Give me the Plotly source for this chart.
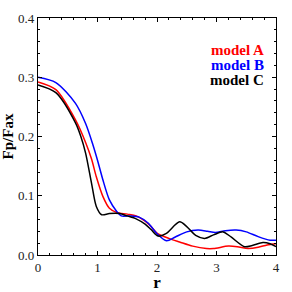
import plotly.graph_objects as go

r_a = [0, 0.3, 0.63, 0.8, 0.9, 0.98, 1.09, 1.2, 1.32, 1.5, 1.65, 1.8, 1.9, 2.0, 2.2, 2.38, 2.6, 2.83, 2.95, 3.2, 3.35, 3.53, 3.7, 3.85, 4.0]
f_a = [0.292, 0.279, 0.228, 0.190, 0.162, 0.132, 0.099, 0.079, 0.072, 0.069, 0.066, 0.057, 0.048, 0.037, 0.028, 0.022, 0.015, 0.011, 0.011, 0.015, 0.014, 0.011, 0.013, 0.017, 0.019]

r_b = [0, 0.3, 0.63, 0.8, 0.92, 1.0, 1.09, 1.2, 1.32, 1.40, 1.55, 1.7, 1.85, 2.0, 2.16, 2.3, 2.5, 2.69, 2.85, 2.98, 3.15, 3.33, 3.5, 3.7, 3.9, 4.0]
f_b = [0.300, 0.291, 0.256, 0.222, 0.187, 0.160, 0.127, 0.093, 0.074, 0.066, 0.066, 0.064, 0.054, 0.036, 0.024, 0.030, 0.039, 0.042, 0.040, 0.038, 0.041, 0.042, 0.039, 0.031, 0.025, 0.025]

r_c = [0, 0.3, 0.63, 0.72, 0.8, 0.9, 0.98, 1.07, 1.2, 1.37, 1.5, 1.65, 1.8, 1.9, 2.02, 2.15, 2.38, 2.5, 2.65, 2.8, 2.95, 3.11, 3.25, 3.47, 3.6, 3.78, 3.9, 4.0]
f_c = [0.287, 0.274, 0.223, 0.200, 0.172, 0.121, 0.082, 0.068, 0.070, 0.070, 0.066, 0.061, 0.052, 0.043, 0.032, 0.036, 0.056, 0.048, 0.033, 0.028, 0.034, 0.039, 0.030, 0.014, 0.016, 0.021, 0.019, 0.014]

names = ["model A", "model B", "model C"]
colors = ["#ff0000", "#0000ff", "#000000"]
x_ticks = [0, 1, 2, 3, 4]
y_ticks = [0.0, 0.1, 0.2, 0.3, 0.4]
y_tick_text = ["0.0", "0.1", "0.2", "0.3", "0.4"]

fig = go.Figure()
for rr, ff, c in zip([r_a, r_b, r_c], [f_a, f_b, f_c], colors):
    fig.add_trace(go.Scatter(x=rr, y=ff, mode="lines",
                             line=dict(color=c, width=1.5, shape="spline", smoothing=0.8),
                             showlegend=False, hoverinfo="skip"))

font_fam = "Times New Roman"
axis_common = dict(showline=True, linecolor="black", linewidth=1.2, mirror="allticks",
                   ticks="inside", ticklen=4, tickcolor="black", showgrid=False, zeroline=False,
                   automargin=False,
                   tickfont=dict(family=font_fam, size=13, color="#222"))

fig.update_xaxes(range=[0, 4], tickvals=x_ticks, **axis_common,
                 minor=dict(dtick=0.2, ticks="inside", ticklen=2, tickcolor="black", showgrid=False),
                 title=dict(text="<b>r</b>", font=dict(family=font_fam, size=17, color="black"), standoff=8))
fig.update_yaxes(range=[0, 0.4], tickvals=y_ticks, ticktext=y_tick_text, **axis_common,
                 minor=dict(dtick=0.02, ticks="inside", ticklen=2, tickcolor="black", showgrid=False),
                 title=dict(text="<b>Fp/Fax</b>", font=dict(family=font_fam, size=15, color="black"), standoff=3))

W, H = 292, 292
ml, mr, mt, mb = 38, 16, 18, 37
pw, ph = W - ml - mr, H - mt - mb

leg_px = [(265, 50), (265, 65), (265, 80)]
for (px, py), n, c in zip(leg_px, names, colors):
    fig.add_annotation(x=(px - ml) / pw, y=1 - (py - mt) / ph, xref="paper", yref="paper",
                       text=f"<b>{n}</b>", showarrow=False, xanchor="right", yanchor="middle",
                       borderpad=0, font=dict(family=font_fam, size=15, color=c))

fig.update_layout(width=W, height=H, margin=dict(l=ml, r=mr, t=mt, b=mb),
                  paper_bgcolor="white", plot_bgcolor="white")

fig.write_html("out.html", config={"displayModeBar": False},
               post_script="document.body.style.margin='0';document.body.style.padding='0';")
